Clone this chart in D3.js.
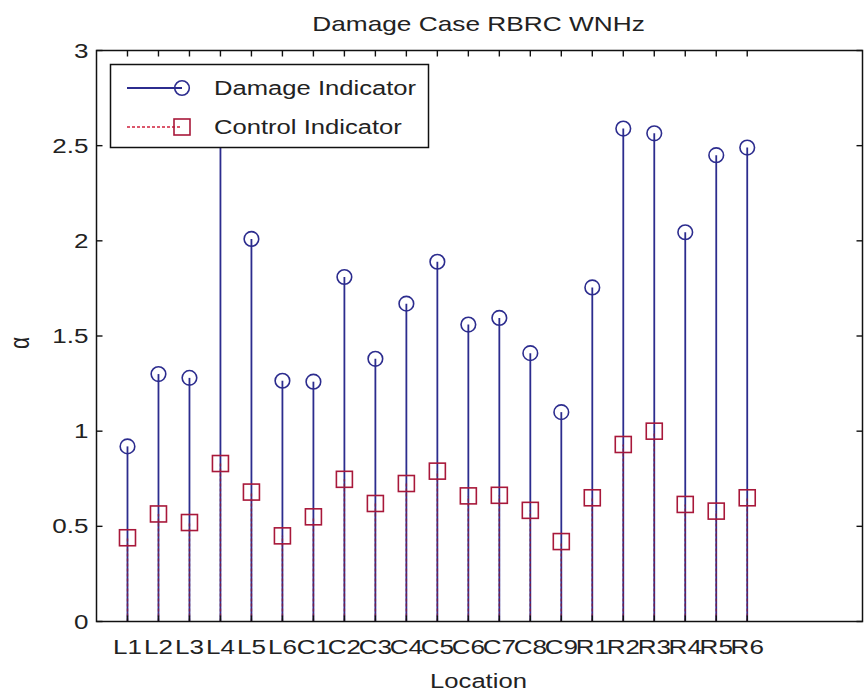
<!DOCTYPE html>
<html><head><meta charset="utf-8">
<script src="https://cdn.jsdelivr.net/npm/d3@7"></script>
<style>
html,body{margin:0;padding:0;background:#fff;}
text{font-family:"Liberation Sans",Arial,sans-serif;fill:#222;}
</style></head>
<body>
<svg id="chart" width="864" height="696"></svg>
<script>
const categories = ["L1","L2","L3","L4","L5","L6","C1","C2","C3","C4","C5","C6","C7","C8","C9","R1","R2","R3","R4","R5","R6"];
const damage = [0.92,1.30,1.28,2.80,2.01,1.265,1.26,1.81,1.38,1.67,1.89,1.56,1.595,1.41,1.10,1.755,2.59,2.565,2.045,2.45,2.49];
const control = [0.44,0.565,0.52,0.83,0.68,0.45,0.55,0.747,0.62,0.725,0.79,0.66,0.663,0.584,0.42,0.65,0.93,1.0,0.615,0.58,0.65];
const yTicks = [0,0.5,1,1.5,2,2.5,3];
const yTickLabels = ["0","0.5","1","1.5","2","2.5","3"];
const seriesNames = ["Damage Indicator","Control Indicator"];
const title = "Damage Case RBRC WNHz";
const xLabel = "Location";
const yLabel = "\u03b1";

const blue = "#2c2c8e", red = "#d0203c";
const sx = 1.24;
const svg = d3.select("#chart");
const L = 96.5, R = 862.5, T = 50.5, B = 621.5;
const x = d3.scaleLinear().domain([0, 24.72]).range([L, R]);
const y = d3.scaleLinear().domain([0, 3]).range([B, T]);
const idx = categories.map((c,i)=>i+1);

// stems
const g = svg.append("g");
g.selectAll("line.d").data(damage).join("line")
  .attr("x1",(d,i)=>x(i+1)).attr("x2",(d,i)=>x(i+1))
  .attr("y1",y(0)).attr("y2",d=>y(d))
  .attr("stroke",blue).attr("stroke-width",1.8);
g.selectAll("line.c").data(control).join("line")
  .attr("x1",(d,i)=>x(i+1)).attr("x2",(d,i)=>x(i+1))
  .attr("y1",y(0)).attr("y2",d=>y(d))
  .attr("stroke","#8a1a3a").attr("stroke-width",1.4).attr("stroke-dasharray","3,2").attr("opacity",0.85);
g.selectAll("circle").data(damage).join("circle")
  .attr("cx",(d,i)=>x(i+1)).attr("cy",d=>y(d)).attr("r",7.3)
  .attr("fill","none").attr("stroke",blue).attr("stroke-width",1.6);
g.selectAll("rect").data(control).join("rect")
  .attr("x",(d,i)=>x(i+1)-8).attr("y",d=>y(d)-8).attr("width",16).attr("height",16)
  .attr("fill","none").attr("stroke","#a8183a").attr("stroke-width",1.6);

// axes box
const ax = svg.append("g");
ax.append("rect").attr("x",L).attr("y",T).attr("width",R-L).attr("height",B-T)
  .attr("fill","none").attr("stroke","#111").attr("stroke-width",1.5);
ax.selectAll("line.xt").data(idx).join("line")
  .attr("x1",d=>x(d)).attr("x2",d=>x(d)).attr("y1",T).attr("y2",T+6)
  .attr("stroke","#111").attr("stroke-width",1.4);
ax.selectAll("line.xb").data(idx).join("line")
  .attr("x1",d=>x(d)).attr("x2",d=>x(d)).attr("y1",B).attr("y2",B-6)
  .attr("stroke","#111").attr("stroke-width",1.4);
ax.selectAll("line.yl").data(yTicks).join("line")
  .attr("x1",L).attr("x2",L+6).attr("y1",d=>y(d)).attr("y2",d=>y(d))
  .attr("stroke","#111").attr("stroke-width",1.4);
ax.selectAll("line.yr").data(yTicks).join("line")
  .attr("x1",R).attr("x2",R-6).attr("y1",d=>y(d)).attr("y2",d=>y(d))
  .attr("stroke","#111").attr("stroke-width",1.4);

// x tick labels
ax.selectAll("text.xl").data(categories).join("text")
  .attr("transform",(d,i)=>`translate(${x(i+1)},${B+32}) scale(${sx},1)`)
  .attr("text-anchor","middle").attr("font-size",21).text(d=>d);
// y tick labels
ax.selectAll("text.yl").data(yTicks).join("text")
  .attr("transform",d=>`translate(${L-8},${y(d)+7}) scale(${sx},1)`)
  .attr("text-anchor","end").attr("font-size",21).text((d,i)=>yTickLabels[i]);

// titles
svg.append("text").attr("transform",`translate(${(L+R)/2 - 1},31) scale(1.25,1)`)
  .attr("text-anchor","middle").attr("font-size",21).text(title);
svg.append("text").attr("transform",`translate(${(L+R)/2 - 1},688) scale(1.22,1)`)
  .attr("text-anchor","middle").attr("font-size",21).text(xLabel);
svg.append("text").attr("transform",`translate(29,343) rotate(-90) scale(1,1.3)`)
  .attr("text-anchor","middle").attr("font-size",21).text(yLabel);

// legend
const lg = svg.append("g");
lg.append("rect").attr("x",110.5).attr("y",64.5).attr("width",318).attr("height",83)
  .attr("fill","#fff").attr("stroke","#111").attr("stroke-width",1.5);
const rows = [88, 127];
lg.append("line").attr("x1",127).attr("x2",182).attr("y1",rows[0]).attr("y2",rows[0])
  .attr("stroke",blue).attr("stroke-width",1.8);
lg.append("circle").attr("cx",182).attr("cy",rows[0]).attr("r",7.3)
  .attr("fill","none").attr("stroke",blue).attr("stroke-width",1.6);
lg.append("line").attr("x1",127).attr("x2",182).attr("y1",rows[1]).attr("y2",rows[1])
  .attr("stroke",red).attr("stroke-width",1.4).attr("stroke-dasharray","3,2");
lg.append("rect").attr("x",174).attr("y",rows[1]-8).attr("width",16).attr("height",16)
  .attr("fill","none").attr("stroke","#a8183a").attr("stroke-width",1.6);
lg.selectAll("text").data(seriesNames).join("text")
  .attr("transform",(d,i)=>`translate(214,${rows[i]+7}) scale(1.22,1)`)
  .attr("font-size",21).text(d=>d);
</script>
</body></html>
